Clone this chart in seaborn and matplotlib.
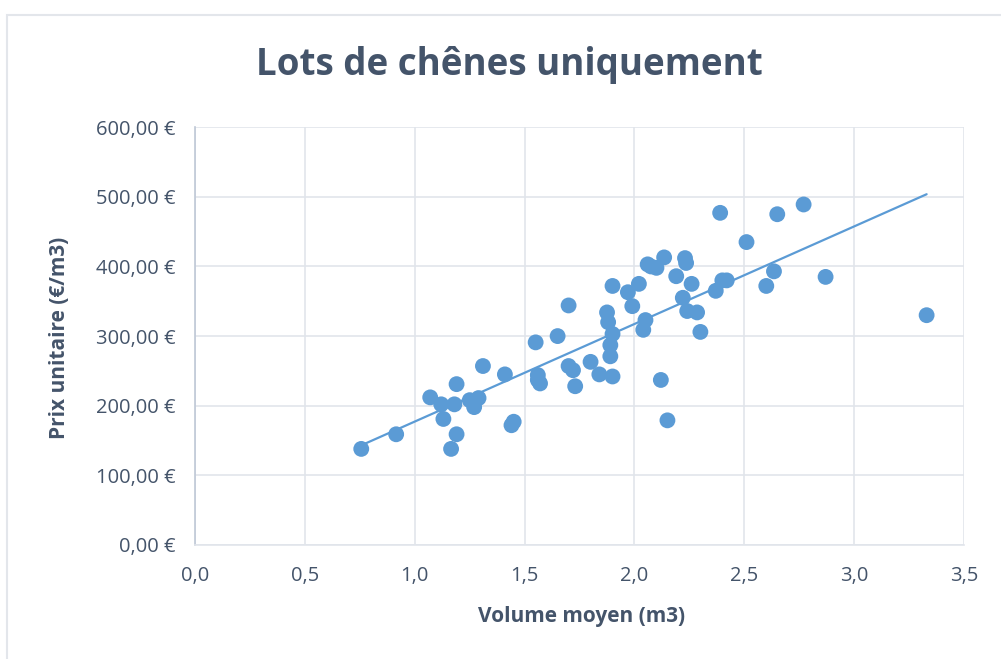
import numpy as np
import pandas as pd
import matplotlib
matplotlib.use("Agg")
import matplotlib.pyplot as plt
from matplotlib.ticker import FuncFormatter, MultipleLocator
from matplotlib.patches import Rectangle
import seaborn as sns

# Volume moyen (m3) et prix unitaire (EUR/m3) des lots
volume = [0.756, 0.915, 1.07, 1.12, 1.13, 1.19, 1.18, 1.19, 1.165, 1.25,
          1.27, 1.29, 1.31, 1.41, 1.44, 1.45, 1.55, 1.56, 1.57, 1.56,
          1.65, 1.70, 1.70, 1.72, 1.73, 1.80, 1.84, 1.875, 1.88, 1.89,
          1.89, 1.90, 1.90, 1.90, 1.97, 1.99, 2.02, 2.04, 2.05, 2.06,
          2.075, 2.10, 2.12, 2.135, 2.15, 2.19, 2.22, 2.23, 2.24, 2.235,
          2.26, 2.285, 2.30, 2.37, 2.39, 2.40, 2.42, 2.51, 2.60, 2.635,
          2.65, 2.77, 2.87, 3.33]
prix = [138, 159, 212, 202, 181, 231, 202, 159, 138, 208,
        198, 211, 257, 245, 172, 177, 291, 237, 232, 244,
        300, 344, 257, 251, 228, 263, 245, 334, 320, 287,
        271, 372, 242, 303, 363, 343, 375, 309, 323, 403,
        400, 398, 237, 413, 179, 386, 355, 412, 336, 405,
        375, 334, 306, 365, 477, 380, 380, 435, 372, 393,
        475, 489, 385, 330]

df = pd.DataFrame({"volume": volume, "prix": prix})

blue = "#5B9BD5"
text_col = "#44546A"
grid_col = "#E1E5EB"

sns.set_style("white")
plt.rcParams["font.family"] = ["Open Sans", "DejaVu Sans"]

fig = plt.figure(figsize=(10.01, 6.59), dpi=100)
ax = fig.add_axes([0.195, 0.173, 0.768, 0.634])

sns.scatterplot(data=df, x="volume", y="prix", ax=ax, color=blue, s=130,
                edgecolor="none", zorder=3)
sns.regplot(data=df, x="volume", y="prix", ax=ax, ci=None, scatter=False,
            truncate=True, line_kws={"color": blue, "lw": 1.6, "zorder": 2})

ax.set_xlim(0, 3.5)
ax.set_ylim(0, 600)
ax.xaxis.set_major_locator(MultipleLocator(0.5))
ax.yaxis.set_major_locator(MultipleLocator(100))
ax.xaxis.set_major_formatter(FuncFormatter(lambda v, p: f"{v:.1f}".replace(".", ",")))
ax.yaxis.set_major_formatter(FuncFormatter(lambda v, p: f"{v:.2f}".replace(".", ",") + " €"))
ax.grid(True, color=grid_col, lw=1.2)
ax.set_axisbelow(True)
for s in ["top", "right"]:
    ax.spines[s].set_visible(False)
ax.spines["left"].set_color("#BFC8D6")
ax.spines["bottom"].set_color(grid_col)
ax.spines["left"].set_linewidth(1.2)
ax.spines["bottom"].set_linewidth(1.2)
ax.tick_params(axis="x", length=0, labelsize=14.5, labelcolor=text_col, pad=15)
ax.tick_params(axis="y", length=0, labelsize=14.5, labelcolor=text_col, pad=14)

ax.set_xlabel("Volume moyen (m3)", fontsize=15, fontweight="bold", color=text_col)
ax.set_ylabel("Prix unitaire (€/m3)", fontsize=15, fontweight="bold", color=text_col)
ax.xaxis.label.set_va("center")
ax.yaxis.label.set_va("center")
ax.xaxis.set_label_coords(0.502, -0.172)
ax.yaxis.set_label_coords(-0.177, 0.495)
fig.suptitle("Lots de chênes uniquement", x=0.509, y=0.902, va="center",
             fontsize=26.5, fontweight="bold", color=text_col)

# cadre du graphique
fig.patches.append(Rectangle((0.007, -0.1), 1.2, 1.077, transform=fig.transFigure,
                             fill=False, edgecolor="#E3E6EB", lw=1.5))

fig.savefig("out.png", dpi=100)
